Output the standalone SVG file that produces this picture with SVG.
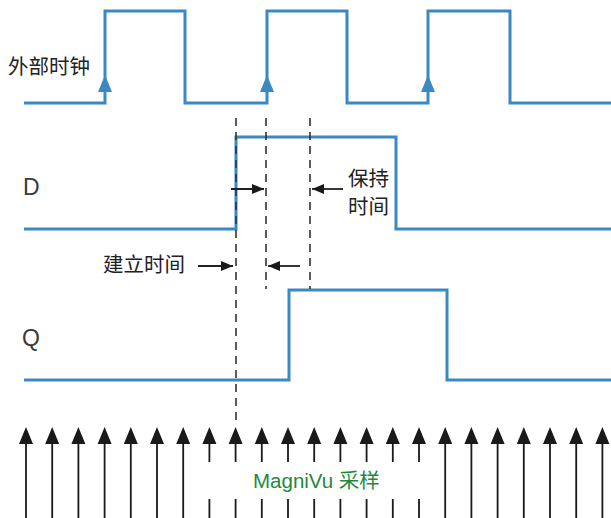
<svg xmlns="http://www.w3.org/2000/svg" width="611" height="518" viewBox="0 0 611 518">
<defs>
<style>
.sig{fill:none;stroke:#3a89c3;stroke-width:3;stroke-linejoin:miter}
.clkarr{fill:#3a89c3}
.dash{fill:none;stroke:#333;stroke-width:1.6;stroke-dasharray:8 6}
.dim{fill:none;stroke:#222;stroke-width:1.8}
.head{fill:#1a1a1a}
.samp{fill:none;stroke:#1a1a1a;stroke-width:1.8}
.lbl{font-family:"Liberation Sans","Noto Sans CJK SC",sans-serif;font-size:20.5px;fill:#222}
.sig-lbl{font-family:"Liberation Sans",sans-serif;font-size:23px;fill:#3a3a3a}
.green{font-family:"Liberation Sans","Noto Sans CJK SC",sans-serif;font-size:20.5px;fill:#1e8a3c}
</style>
<marker id="ah" viewBox="0 0 12 10" refX="12" refY="5" markerWidth="12" markerHeight="10" markerUnits="userSpaceOnUse" orient="auto"><path d="M0,0 L12,5 L0,10 Z" fill="#1a1a1a"/></marker>
</defs>

<g id="clock">
<polyline class="sig" points="24,103 105,103 105,11 185,11 185,103 267,103 267,11 347,11 347,103 428,103 428,11 510,11 510,103 611,103"/>
<polygon class="clkarr" points="105,75 98,92 112,92"/>
<polygon class="clkarr" points="267,75 260,92 274,92"/>
<polygon class="clkarr" points="428,75 421,92 435,92"/>
<text class="lbl" x="8" y="74">外部时钟</text>
</g>

<g id="D">
<polyline class="sig" points="24,229 236,229 236,137 396,137 396,229 611,229"/>
<text class="sig-lbl" x="23" y="195">D</text>
</g>

<g id="Q">
<polyline class="sig" points="24,380 289,380 289,290 447,290 447,380 611,380"/>
<text class="sig-lbl" x="22" y="346">Q</text>
</g>

<g id="connectors">
<line class="dash" x1="236" y1="118" x2="236" y2="420"/>
<line class="dash" x1="266" y1="118" x2="266" y2="289"/>
<line class="dash" x1="310" y1="118" x2="310" y2="289"/>
<line class="dim" x1="231" y1="189" x2="264" y2="189" marker-end="url(#ah)"/>
<line class="dim" x1="343" y1="189" x2="312" y2="189" marker-end="url(#ah)"/>
<line class="dim" x1="198" y1="266" x2="233" y2="266" marker-end="url(#ah)"/>
<line class="dim" x1="300" y1="266" x2="268" y2="266" marker-end="url(#ah)"/>
</g>

<g id="hold-label">
<text class="lbl" x="348" y="186">保持</text>
<text class="lbl" x="348" y="214">时间</text>
</g>
<g id="setup-label">
<text class="lbl" x="103" y="272">建立时间</text>
</g>

<g id="samples">
<path class="samp" d="M26,443V518 M52.2,443V518 M78.4,443V518 M104.6,443V518 M130.8,443V518 M157,443V518 M183.2,443V518 M209.4,443V462 M209.4,499V518 M235.6,443V462 M235.6,499V518 M261.8,443V462 M261.8,499V518 M288,443V462 M288,499V518 M314.2,443V462 M314.2,499V518 M340.4,443V462 M340.4,499V518 M366.6,443V462 M366.6,499V518 M392.8,443V462 M392.8,499V518 M419,443V462 M419,499V518 M445.2,443V518 M471.4,443V518 M497.6,443V518 M523.8,443V518 M550,443V518 M576.2,443V518 M602.4,443V518"/>
<path class="head" d="M26,427l-7,17h14z M52.2,427l-7,17h14z M78.4,427l-7,17h14z M104.6,427l-7,17h14z M130.8,427l-7,17h14z M157,427l-7,17h14z M183.2,427l-7,17h14z M209.4,427l-7,17h14z M235.6,427l-7,17h14z M261.8,427l-7,17h14z M288,427l-7,17h14z M314.2,427l-7,17h14z M340.4,427l-7,17h14z M366.6,427l-7,17h14z M392.8,427l-7,17h14z M419,427l-7,17h14z M445.2,427l-7,17h14z M471.4,427l-7,17h14z M497.6,427l-7,17h14z M523.8,427l-7,17h14z M550,427l-7,17h14z M576.2,427l-7,17h14z M602.4,427l-7,17h14z"/>
<text class="green" x="253" y="488">MagniVu 采样</text>
</g>
</svg>
